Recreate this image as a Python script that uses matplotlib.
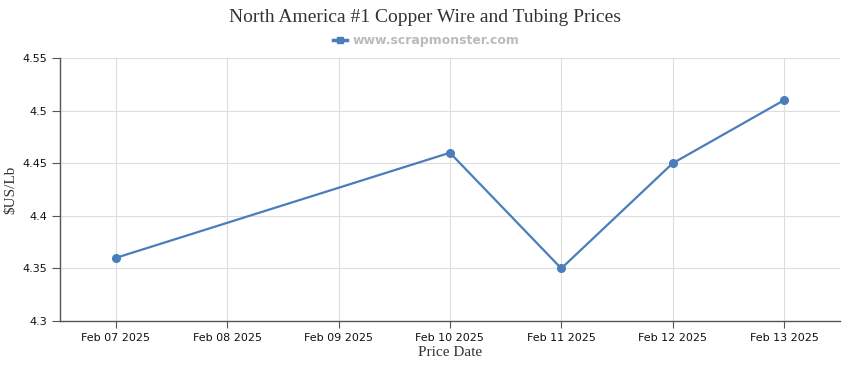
import datetime as dt

import matplotlib
matplotlib.use("Agg")
import matplotlib.pyplot as plt
import matplotlib.dates as mdates

# data
price_dates = ["2025-02-07", "2025-02-10", "2025-02-11", "2025-02-12", "2025-02-13"]
prices = [4.36, 4.46, 4.35, 4.45, 4.51]
tick_dates = ["2025-02-07", "2025-02-08", "2025-02-09", "2025-02-10",
              "2025-02-11", "2025-02-12", "2025-02-13"]
y_ticks = [4.3, 4.35, 4.4, 4.45, 4.5, 4.55]
y_tick_labels = ["4.3", "4.35", "4.4", "4.45", "4.5", "4.55"]

LINE = "#4a7ebb"

x = [dt.datetime.fromisoformat(d) for d in price_dates]
xt = [dt.datetime.fromisoformat(d) for d in tick_dates]

fig = plt.figure(figsize=(8.5, 3.7), dpi=100)
ax = fig.add_axes([0.0706, 0.1324, 0.9174, 0.7106])

ax.plot(x, prices, color=LINE, lw=1.6, marker="o", ms=5.5, zorder=3)

ax.set_xlim(xt[0] - dt.timedelta(hours=12), xt[-1] + dt.timedelta(hours=12))
ax.set_ylim(4.3, 4.55)
ax.set_xticks(xt)
ax.xaxis.set_major_formatter(mdates.DateFormatter("%b %d %Y"))
ax.set_yticks(y_ticks)
ax.set_yticklabels(y_tick_labels)

ax.grid(True, color="#dddddd", lw=0.8)
ax.set_axisbelow(True)
for s in ("top", "right"):
    ax.spines[s].set_visible(False)
for s in ("left", "bottom"):
    ax.spines[s].set_color("#555555")
    ax.spines[s].set_linewidth(1.0)
ax.tick_params(axis="both", colors="#555555", labelcolor="#111111",
               labelsize=8, length=5, width=0.8)
ax.tick_params(axis="y", length=6)

ax.set_xlabel("Price Date", family="Liberation Serif", fontsize=11,
              color="#333333", labelpad=2)
ax.set_ylabel("$US/Lb", family="Liberation Serif", fontsize=11,
              color="#333333", labelpad=3)

fig.text(0.5, 0.952, "North America #1 Copper Wire and Tubing Prices",
         ha="center", va="center", family="Liberation Serif",
         fontsize=14, color="#333333")

# legend entry
fig.lines.append(plt.Line2D([0.392, 0.408], [0.891, 0.891], transform=fig.transFigure,
                            color=LINE, lw=2.5, marker="s", ms=5, markevery=[1]))
fig.lines[-1].set_data([0.392, 0.400, 0.408], [0.891, 0.891, 0.891])
fig.text(0.415, 0.891, "www.scrapmonster.com", ha="left", va="center",
         fontsize=9, fontweight="bold", color="#bbbbbb")

fig.savefig("out.png", dpi=100)
